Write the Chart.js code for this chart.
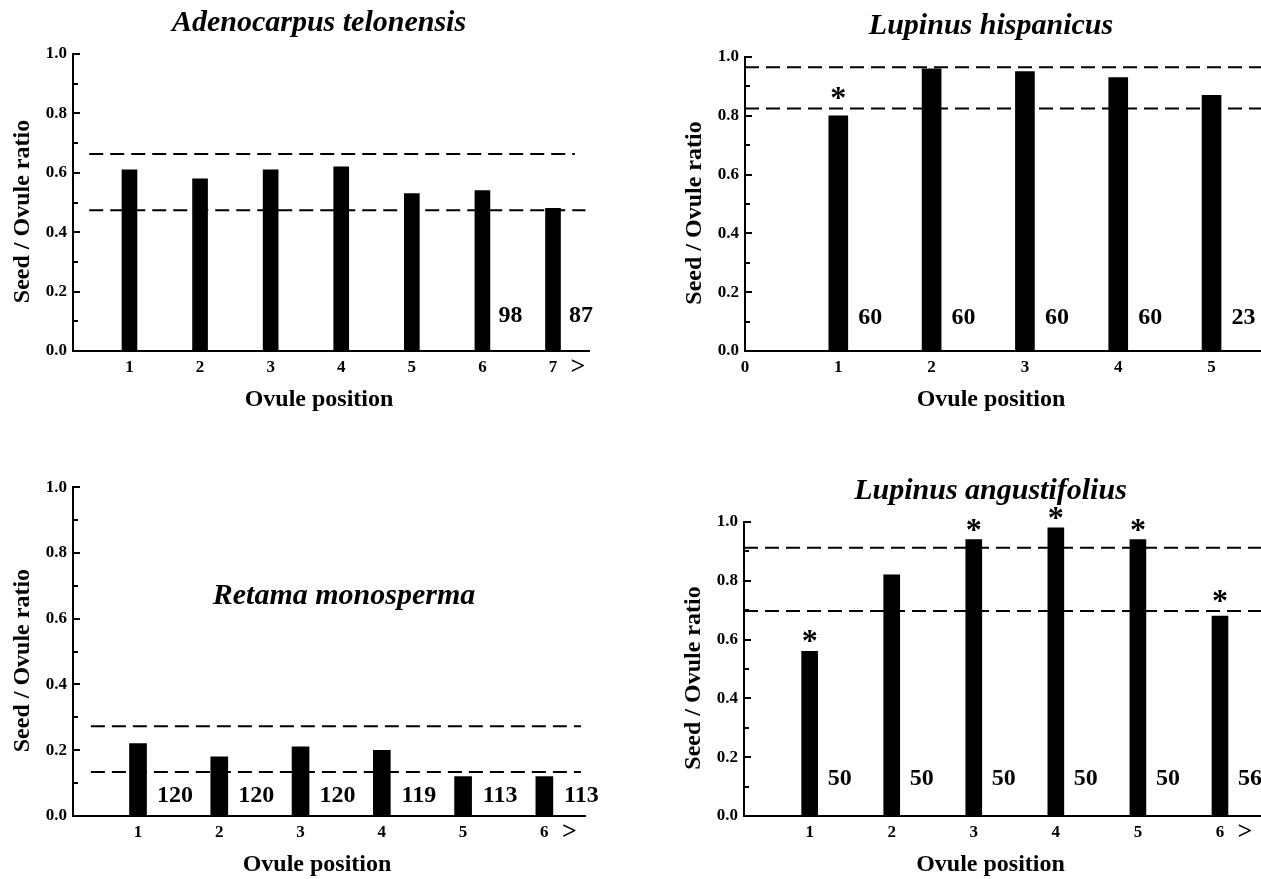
<!DOCTYPE html>
<html>
<head>
<meta charset="utf-8">
<title>Seed / Ovule ratio by ovule position</title>
<script src="https://cdn.jsdelivr.net/npm/chart.js@4.4.1/dist/chart.umd.min.js"></script>
<style>
  html, body { margin: 0; padding: 0; background: #fff; overflow: hidden; }
  body { width: 1261px; height: 879px; position: relative; }
  canvas { position: absolute; }
</style>
</head>
<body>
<canvas id="adeno"  width="640" height="415" style="left:0;top:0"></canvas>
<canvas id="hisp"   width="589" height="415" style="left:672px;top:0"></canvas>
<canvas id="retama" width="640" height="409" style="left:0;top:471px"></canvas>
<canvas id="angus"  width="590" height="419" style="left:671px;top:460px"></canvas>
<script>
// ---- data ----------------------------------------------------------------
// Adenocarpus telonensis
const adenoPositions  = [1, 2, 3, 4, 5, 6, 7];
const adenoTickValues = [1, 2, 3, 4, 5, 6, 7];
const adenoTickLabels = ['1', '2', '3', '4', '5', '6', '7'];
const adenoRatio      = [0.61, 0.58, 0.61, 0.62, 0.53, 0.54, 0.48];
const adenoN          = [null, null, null, null, null, 98, 87];
const adenoSig        = [false, false, false, false, false, false, false];
const adenoBand       = [0.663, 0.474];

// Lupinus hispanicus
const hispPositions  = [1, 2, 3, 4, 5];
const hispTickValues = [0, 1, 2, 3, 4, 5];
const hispTickLabels = ['0', '1', '2', '3', '4', '5'];
const hispRatio      = [0.80, 0.96, 0.95, 0.93, 0.87];
const hispN          = [60, 60, 60, 60, 23];
const hispSig        = [true, false, false, false, false];
const hispBand       = [0.965, 0.825];

// Retama monosperma
const retamaPositions  = [1, 2, 3, 4, 5, 6];
const retamaTickValues = [1, 2, 3, 4, 5, 6];
const retamaTickLabels = ['1', '2', '3', '4', '5', '6'];
const retamaRatio      = [0.22, 0.18, 0.21, 0.20, 0.12, 0.12];
const retamaN          = [120, 120, 120, 119, 113, 113];
const retamaSig        = [false, false, false, false, false, false];
const retamaBand       = [0.273, 0.134];

// Lupinus angustifolius
const angusPositions  = [1, 2, 3, 4, 5, 6];
const angusTickValues = [1, 2, 3, 4, 5, 6];
const angusTickLabels = ['1', '2', '3', '4', '5', '6'];
const angusRatio      = [0.56, 0.82, 0.94, 0.98, 0.94, 0.68];
const angusN          = [50, 50, 50, 50, 50, 56];
const angusSig        = [true, false, true, true, true, true];
const angusBand       = [0.912, 0.697];

// shared y axis
const yMajor       = [0, 0.2, 0.4, 0.6, 0.8, 1.0];
const yMajorLabels = ['0.0', '0.2', '0.4', '0.6', '0.8', '1.0'];
const yMinor       = [0.1, 0.3, 0.5, 0.7, 0.9];

const yTitle = 'Seed / Ovule ratio';
const xTitle = 'Ovule position';

// ---- drawing -------------------------------------------------------------
const SERIF = '"Liberation Serif", "Times New Roman", Times, serif';

function textAt(ctx, str, x, y, font, rot) {
  ctx.save();
  ctx.font = font;
  ctx.textAlign = 'center';
  ctx.textBaseline = 'middle';
  ctx.translate(x, y);
  if (rot) ctx.rotate(rot);
  ctx.fillText(str, 0, 0);
  ctx.restore();
}

function decorations(p) {
  return {
    id: 'decor',
    afterDraw(chart) {
      const { ctx, chartArea: a, scales: { x, y } } = chart;
      ctx.save();
      ctx.fillStyle = '#000';
      ctx.strokeStyle = '#000';

      // tick marks pointing into the plot
      ctx.lineWidth = 2;
      ctx.beginPath();
      yMajor.forEach(v => {
        const py = Math.round(y.getPixelForValue(v));
        ctx.moveTo(a.left, py); ctx.lineTo(a.left + 7, py);
      });
      yMinor.forEach(v => {
        const py = Math.round(y.getPixelForValue(v));
        ctx.moveTo(a.left, py); ctx.lineTo(a.left + 5, py);
      });
      ctx.stroke();

      // sample sizes beside the bars
      p.n.forEach((n, i) => {
        if (n === null) return;
        const px = x.getPixelForValue(p.positions[i]) + p.nDx;
        textAt(ctx, String(n), px, a.bottom - p.nLift, 'bold 24px ' + SERIF);
      });

      // significance asterisks above bars (lifted clear of a band line just above)
      const bandPx = p.band.map(v => y.getPixelForValue(v));
      const starSize = 32;
      p.sig.forEach((s, i) => {
        if (!s) return;
        let top = y.getPixelForValue(p.values[i]);
        bandPx.forEach(b => { if (b < top && top - b < 10) top = b; });
        const px = x.getPixelForValue(p.positions[i]);
        ctx.save();
        ctx.font = 'bold ' + starSize + 'px ' + SERIF;
        ctx.textAlign = 'center';
        ctx.textBaseline = 'alphabetic';
        ctx.fillText('*', px, top - 16 + starSize * 0.5);
        ctx.restore();
      });

      // open-ended last class
      if (p.openEnd) {
        const last = p.tickValues[p.tickValues.length - 1];
        textAt(ctx, '>', x.getPixelForValue(last) + 25, a.bottom + 16, 'bold 26px ' + SERIF);
      }

      // titles
      const cx = (a.left + a.right) / 2;
      const cy = (a.top + a.bottom) / 2;
      textAt(ctx, yTitle, a.left - 50, cy + 9, 'bold 24px ' + SERIF, -Math.PI / 2);
      textAt(ctx, xTitle, cx - 12, a.bottom + 49, 'bold 24px ' + SERIF);
      if (p.inside) {
        textAt(ctx, p.title, cx + 15, a.top + 109, 'italic bold 30px ' + SERIF);
      } else {
        textAt(ctx, p.title, cx - 12, a.top - 31, 'italic bold 30px ' + SERIF);
      }
      ctx.restore();
    }
  };
}

function panel(id, p) {
  const datasets = [{
    type: 'bar',
    data: p.positions.map((pos, i) => ({ x: pos, y: p.values[i] })),
    backgroundColor: '#000',
    borderWidth: 0,
    barThickness: p.barPx,
    order: 2
  }];
  p.band.forEach((v, k) => {
    datasets.push({
      type: 'line',
      data: [{ x: p.bandSpan[k][0], y: v }, { x: p.bandSpan[k][1], y: v }],
      borderColor: '#000',
      borderWidth: 2,
      borderDash: [14, 7],
      pointRadius: 0,
      fill: false,
      order: 1
    });
  });

  new Chart(document.getElementById(id), {
    data: { datasets },
    options: {
      responsive: false,
      animation: false,
      events: [],
      layout: { padding: { top: p.padTop, right: p.padRight, left: 0, bottom: 0 } },
      plugins: { legend: { display: false }, tooltip: { enabled: false }, title: { display: false } },
      scales: {
        x: {
          type: 'linear',
          min: p.xMin, max: p.xMax,
          offset: false,
          grid: { display: false, drawTicks: false },
          border: { display: true, color: '#000', width: 2 },
          afterBuildTicks: s => { s.ticks = p.tickValues.map(v => ({ value: v })); },
          afterFit: s => { s.height = p.xHeight; },
          ticks: {
            callback: (v, i) => p.tickLabels[i],
            font: { family: SERIF, size: 17, weight: 'bold' },
            color: '#000', padding: 6, maxRotation: 0, autoSkip: false
          }
        },
        y: {
          type: 'linear',
          min: 0, max: 1,
          grid: { display: false, drawTicks: false },
          border: { display: true, color: '#000', width: 2 },
          afterBuildTicks: s => { s.ticks = yMajor.map(v => ({ value: v })); },
          afterFit: s => { s.width = 73; },
          ticks: {
            callback: (v, i) => yMajorLabels[i],
            font: { family: SERIF, size: 17, weight: 'bold' },
            color: '#000', padding: 6
          }
        }
      }
    },
    plugins: [decorations(p)]
  });
}

panel('adeno', {
  title: 'Adenocarpus telonensis',
  positions: adenoPositions, tickValues: adenoTickValues, tickLabels: adenoTickLabels,
  values: adenoRatio, n: adenoN, sig: adenoSig, band: adenoBand,
  bandSpan: [[0.43, 7.31], [0.43, 7.46]],
  xMin: 0.2, xMax: 7.51, padTop: 54, padRight: 51, xHeight: 64,
  barPx: 15, nDx: 28, nLift: 35, openEnd: true
});

panel('hisp', {
  title: 'Lupinus hispanicus',
  positions: hispPositions, tickValues: hispTickValues, tickLabels: hispTickLabels,
  values: hispRatio, n: hispN, sig: hispSig, band: hispBand,
  bandSpan: [[0, 5.53], [0, 5.53]],
  xMin: 0, xMax: 5.53, padTop: 57, padRight: 0, xHeight: 64,
  barPx: 19, nDx: 32, nLift: 33, openEnd: false
});

panel('retama', {
  title: 'Retama monosperma', inside: true,
  positions: retamaPositions, tickValues: retamaTickValues, tickLabels: retamaTickLabels,
  values: retamaRatio, n: retamaN, sig: retamaSig, band: retamaBand,
  bandSpan: [[0.42, 6.45], [0.42, 6.45]],
  xMin: 0.2, xMax: 6.5, padTop: 12, padRight: 55, xHeight: 64,
  barPx: 17, nDx: 37, nLift: 20, openEnd: true
});

panel('angus', {
  title: 'Lupinus angustifolius',
  positions: angusPositions, tickValues: angusTickValues, tickLabels: angusTickLabels,
  values: angusRatio, n: angusN, sig: angusSig, band: angusBand,
  bandSpan: [[0.2, 6.5], [0.2, 6.5]],
  xMin: 0.2, xMax: 6.5, padTop: 62, padRight: 0, xHeight: 63,
  barPx: 16, nDx: 30, nLift: 37, openEnd: true
});
</script>
</body>
</html>
